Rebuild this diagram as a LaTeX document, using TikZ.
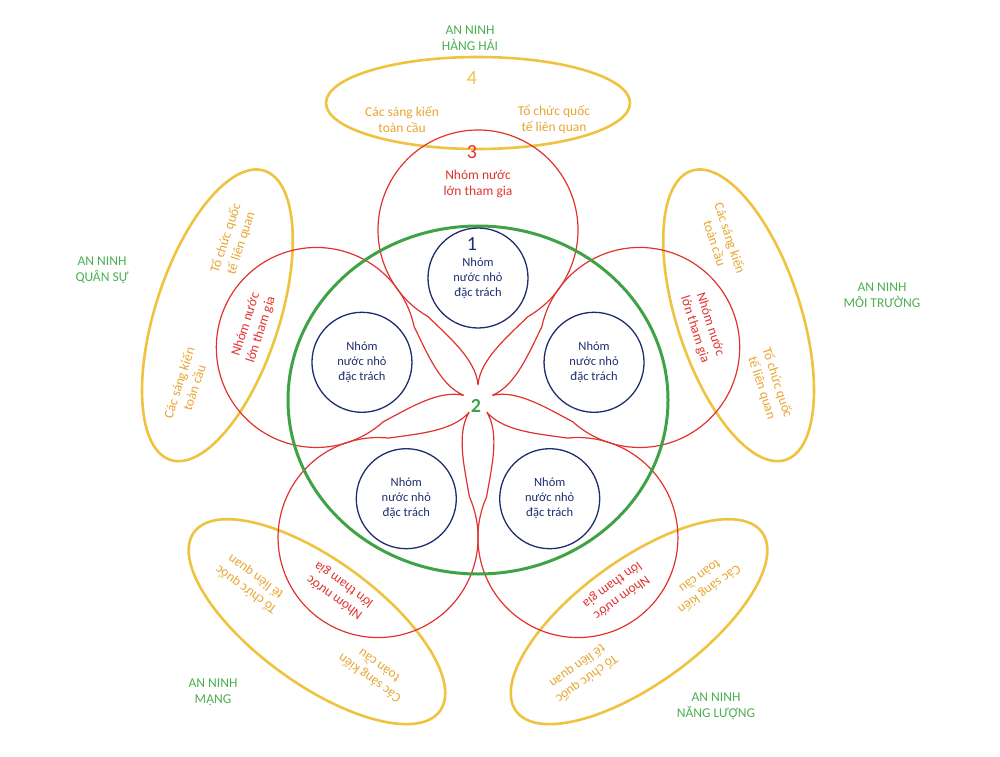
\documentclass[tikz,border=0pt]{standalone}
\usepackage{fontspec}
\setmainfont{Carlito}
\usetikzlibrary{calc}
\definecolor{gold}{HTML}{EFC33F}
\definecolor{goldtext}{HTML}{E8A530}
\definecolor{petalred}{HTML}{E0322E}
\definecolor{ringgreen}{HTML}{3FA346}
\definecolor{navy}{HTML}{1F2D6E}
\definecolor{labelgreen}{HTML}{4CAF50}
\begin{document}
\begin{tikzpicture}[x=1pt,y=1pt,
	every node/.style={align=center,font=\fontsize{13.5}{16}\selectfont},
	field/.style={draw=gold,line width=2.6pt},
	petal/.style={draw=petalred,line width=1.2pt},
	core/.style={draw=navy,line width=1.3pt},
	ring/.style={draw=ringgreen,line width=3pt},
	goldlabel/.style={text=goldtext},
	redlabel/.style={text=petalred},
	area/.style={text=labelgreen}]
	\useasboundingbox (0,0) rectangle (1000,756);
	\coordinate (O) at (478,356);

	% outer fields
	\foreach \a/\d/\h/\o in {90/297/46/-16,18/274/62/8,-54/274/62/8,-126/274/62/8,162/274/62/8}{
		\begin{scope}[shift={(O)},rotate=\a-90]
			\draw[field] (0,\d) ellipse [x radius=152, y radius=\h];
			\node[goldlabel,rotate=\a-90] (ini\a) at (-76,\d+\o) {Các sáng kiến\\toàn cầu};
			\node[goldlabel,rotate=\a-90] (org\a) at (76,\d+\o) {Tổ chức quốc\\tế liên quan};
		\end{scope}
	}

	% petals
	\foreach \a/\r in {90/216,18/236,-54/236,-126/236,162/236}{
		\begin{scope}[shift={(O)},rotate=\a-90]
			\draw[petal] (0,15) .. controls (-2,40) and (-28,62) .. (-50,83.4)
				arc[start angle=240, end angle=-60, radius=100]
				.. controls (28,62) and (2,40) .. (0,15);
			\node[redlabel,rotate=\a-90] (big\a) at (0,\r) {Nhóm nước\\lớn tham gia};
		\end{scope}
	}

	\draw[ring] (O) ellipse [x radius=190, y radius=174];

	% small groups
	\foreach \a in {90,18,-54,-126,162}{
		\node[core,circle,minimum size=100pt,text=navy,
			font=\fontsize{12.5}{15}\selectfont] (small\a) at ($(O)+(\a:122)$) {Nhóm\\nước nhỏ\\đặc trách};
	}

	\node[text=navy,font=\fontsize{20}{20}\selectfont] (n1) at (472,512) {1};
	\node[text=ringgreen,font=\bfseries\fontsize{20}{20}\selectfont] (n2) at (476,350) {2};
	\node[text=petalred,font=\fontsize{20}{20}\selectfont] (n3) at (472,604) {3};
	\node[text=gold,font=\fontsize{20}{20}\selectfont] (n4) at (472,678) {4};

	\node[area] (sea) at (470,718) {AN NINH\\HÀNG HẢI};
	\node[area] (env) at (882,461) {AN NINH\\MÔI TRƯỜNG};
	\node[area] (mil) at (102,486) {AN NINH\\QUÂN SỰ};
	\node[area] (cyb) at (213,64) {AN NINH\\MẠNG};
	\node[area] (nrg) at (716,50) {AN NINH\\NĂNG LƯỢNG};
\end{tikzpicture}
\end{document}
